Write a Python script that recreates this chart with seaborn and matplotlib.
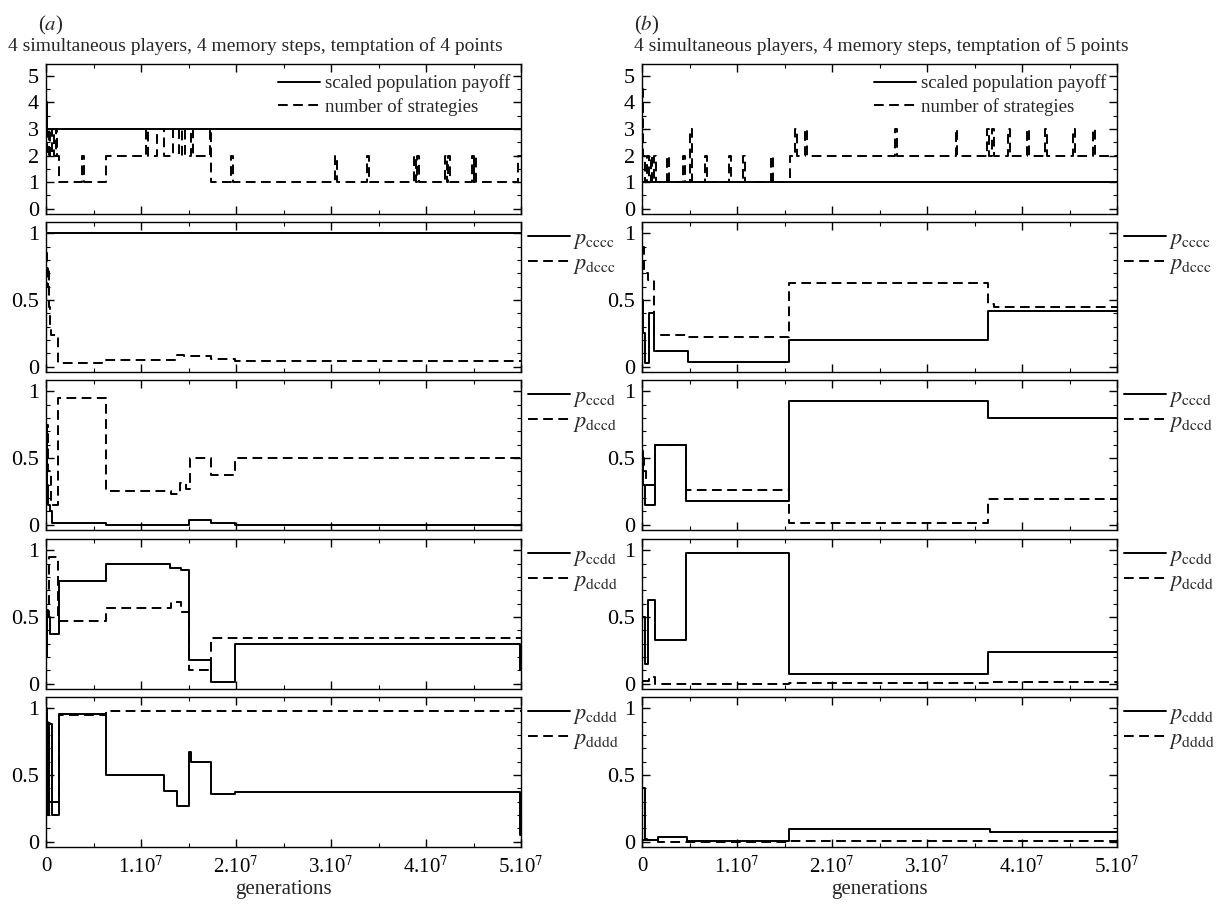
import numpy as np
import matplotlib
matplotlib.use("Agg")
import matplotlib.pyplot as plt
import seaborn as sns
from matplotlib.ticker import MultipleLocator

# ---------------- data (x in units of 1e7 generations) ----------------
x_ticks = [0, 1, 2, 3, 4, 5]
x_tick_labels = ["0", r"1.10$^7$", r"2.10$^7$", r"3.10$^7$", r"4.10$^7$", r"5.10$^7$"]

titles = ["4 simultaneous players, 4 memory steps, temptation of 4 points",
          "4 simultaneous players, 4 memory steps, temptation of 5 points"]
panel_tags = ["a", "b"]

# column (a)
payoff_a_x = [0, 0.015, 5.0]
payoff_a_y = [4.0, 3.0, 3.0]
nstrat_a_x = [0, 0.015, 0.03, 0.045, 0.06, 0.08, 0.10, 0.12, 0.14, 0.38, 0.40, 0.63,
              1.05, 1.07, 1.17, 1.24, 1.34, 1.40, 1.43, 1.46, 1.53, 1.55, 1.73, 1.74,
              1.95, 1.97, 3.04, 3.06, 3.38, 3.40, 3.87, 3.89, 3.91, 3.93,
              4.20, 4.22, 4.23, 4.25, 4.48, 4.50, 4.51, 4.53, 4.97, 5.0]
nstrat_a_y = [3, 2, 3, 2, 3, 2, 3, 2, 1, 2, 1, 2,
              3, 2, 3, 2, 3, 2, 3, 2, 3, 2, 3, 1,
              2, 1, 2, 1, 2, 1, 2, 1, 2, 1,
              2, 1, 2, 1, 2, 1, 2, 1, 2, 2]

pcccc_a_x = [0, 5.0]
pcccc_a_y = [1.0, 1.0]
pdccc_a_x = [0, 0.01, 0.02, 0.03, 0.04, 0.05, 0.13, 0.59, 1.38, 1.45, 1.74, 1.99, 5.0]
pdccc_a_y = [0.85, 0.6, 0.75, 0.45, 0.3, 0.24, 0.03, 0.05, 0.09, 0.08, 0.06, 0.04, 0.04]

pcccd_a_x = [0, 0.01, 0.02, 0.04, 0.06, 0.63, 1.40, 1.51, 1.74, 1.99, 5.0]
pcccd_a_y = [0.75, 0.3, 0.15, 0.1, 0.01, 0.0, -0.005, 0.035, 0.015, -0.005, -0.005]
pdccd_a_x = [0, 0.01, 0.02, 0.05, 0.13, 0.63, 1.32, 1.41, 1.47, 1.52, 1.74, 1.99, 5.0]
pdccd_a_y = [0.6, 0.75, 0.4, 0.15, 0.95, 0.25, 0.23, 0.31, 0.27, 0.5, 0.37, 0.5, 0.5]

pccdd_a_x = [0, 0.01, 0.02, 0.04, 0.14, 0.63, 1.30, 1.42, 1.51, 1.74, 1.99, 4.99, 5.0]
pccdd_a_y = [0.2, 0.55, 0.5, 0.37, 0.77, 0.9, 0.87, 0.85, 0.18, 0.01, 0.3, 0.1, 0.1]
pdcdd_a_x = [0, 0.03, 0.13, 0.63, 1.32, 1.42, 1.51, 1.74, 5.0]
pdcdd_a_y = [0.5, 0.95, 0.47, 0.57, 0.61, 0.54, 0.1, 0.34, 0.34]

pcddd_a_x = [0, 0.01, 0.03, 0.06, 0.14, 0.63, 1.24, 1.38, 1.51, 1.53, 1.74, 1.99, 4.99, 5.0]
pcddd_a_y = [0.95, 0.2, 0.88, 0.2, 0.96, 0.5, 0.38, 0.27, 0.67, 0.6, 0.36, 0.37, 0.05, 0.05]
pdddd_a_x = [0, 0.01, 0.02, 0.03, 0.14, 0.63, 5.0]
pdddd_a_y = [1.0, 0.3, 0.9, 0.3, 0.95, 0.98, 0.98]

# column (b)
payoff_b_x = [0, 5.0]
payoff_b_y = [1.0, 1.0]
nstrat_b_x = [0, 0.01, 0.03, 0.05, 0.07, 0.09, 0.11, 0.13, 0.15, 0.26, 0.28, 0.43, 0.45,
              0.51, 0.53, 0.66, 0.68, 0.92, 0.94, 1.06, 1.08, 1.36, 1.38, 1.56,
              1.61, 1.63, 1.72, 1.74, 2.66, 2.68, 3.30, 3.32, 3.63, 3.65, 3.68, 3.70,
              3.85, 3.87, 4.05, 4.07, 4.24, 4.26, 4.54, 4.56, 4.75, 4.77, 5.0]
nstrat_b_y = [4.5, 2, 1, 2, 1, 2, 1, 2, 1, 2, 1, 2, 1,
              3, 1, 2, 1, 2, 1, 2, 1, 2, 1, 2,
              3, 2, 3, 2, 3, 2, 3, 2, 3, 2, 3, 2,
              3, 2, 3, 2, 3, 2, 3, 2, 3, 2, 2]

pcccc_b_x = [0, 0.01, 0.03, 0.07, 0.13, 0.48, 1.55, 3.64, 5.0]
pcccc_b_y = [0.5, 0.25, 0.03, 0.4, 0.12, 0.035, 0.2, 0.42, 0.42]
pdccc_b_x = [0, 0.02, 0.06, 0.13, 0.48, 1.55, 3.64, 3.70, 5.0]
pdccc_b_y = [0.9, 0.7, 0.65, 0.24, 0.22, 0.63, 0.47, 0.45, 0.45]

pcccd_b_x = [0, 0.01, 0.03, 0.135, 0.46, 1.55, 3.64, 5.0]
pcccd_b_y = [0.55, 0.3, 0.15, 0.6, 0.18, 0.93, 0.8, 0.8]
pdccd_b_x = [0, 0.02, 0.04, 0.135, 0.46, 1.55, 3.64, 5.0]
pdccd_b_y = [0.5, 0.4, 0.3, 0.6, 0.26, 0.01, 0.19, 0.19]

pccdd_b_x = [0, 0.03, 0.065, 0.135, 0.46, 1.55, 3.64, 5.0]
pccdd_b_y = [0.5, 0.15, 0.63, 0.33, 0.98, 0.07, 0.24, 0.24]
pdcdd_b_x = [0, 0.07, 0.135, 1.55, 3.64, 5.0]
pdcdd_b_y = [0.02, 0.05, 0.0, 0.005, 0.012, 0.012]

pcddd_b_x = [0, 0.03, 0.05, 0.17, 0.47, 1.55, 3.66, 5.0]
pcddd_b_y = [0.4, 0.02, 0.015, 0.033, 0.003, 0.093, 0.07, 0.07]
pdddd_b_x = [0, 0.17, 1.55, 5.0]
pdddd_b_y = [0.012, 0.0, 0.003, 0.003]

prob_labels = [("cccc", "dccc"), ("cccd", "dccd"), ("ccdd", "dcdd"), ("cddd", "dddd")]

columns = [
    [(payoff_a_x, payoff_a_y, nstrat_a_x, nstrat_a_y),
     (pcccc_a_x, pcccc_a_y, pdccc_a_x, pdccc_a_y),
     (pcccd_a_x, pcccd_a_y, pdccd_a_x, pdccd_a_y),
     (pccdd_a_x, pccdd_a_y, pdcdd_a_x, pdcdd_a_y),
     (pcddd_a_x, pcddd_a_y, pdddd_a_x, pdddd_a_y)],
    [(payoff_b_x, payoff_b_y, nstrat_b_x, nstrat_b_y),
     (pcccc_b_x, pcccc_b_y, pdccc_b_x, pdccc_b_y),
     (pcccd_b_x, pcccd_b_y, pdccd_b_x, pdccd_b_y),
     (pccdd_b_x, pccdd_b_y, pdcdd_b_x, pdcdd_b_y),
     (pcddd_b_x, pcddd_b_y, pdddd_b_x, pdddd_b_y)],
]

# ---------------- style ----------------
sns.set_theme(style="ticks")
plt.rcParams["font.family"] = ["Liberation Serif", "DejaVu Serif"]
plt.rcParams["mathtext.fontset"] = "stix"
plt.rcParams["lines.dashed_pattern"] = [5, 2.8]
plt.rcParams["axes.linewidth"] = 1.0

W, H = 1225, 907
fig = plt.figure(figsize=(W / 100, H / 100), dpi=100)
fig.patch.set_facecolor("white")

lefts = [46, 642]
tag_x = [38, 634]
title_x = [8, 634]
tops = [64, 222, 380, 539, 697]
AW, AH = 475, 150
LW = 1.4

for c in range(2):
    fig.text(tag_x[c] / W, 1 - 25 / H, "($%s$)" % panel_tags[c],
             fontsize=15, ha="left", va="center")
    fig.text(title_x[c] / W, 1 - 46 / H, titles[c], fontsize=14,
             ha="left", va="center")
    for r in range(5):
        ax = fig.add_axes([lefts[c] / W, 1 - (tops[r] + AH) / H, AW / W, AH / H])
        sx, sy, dx, dy = columns[c][r]
        if r == 0:
            lab_s, lab_d = "scaled population payoff", "number of strategies"
        else:
            lab_s = r"$p_{\mathrm{%s}}$" % prob_labels[r - 1][0]
            lab_d = r"$p_{\mathrm{%s}}$" % prob_labels[r - 1][1]
        sns.lineplot(x=np.array(sx) * 1e7, y=sy, ax=ax, color="black", lw=LW,
                     drawstyle="steps-post", estimator=None, sort=False, label=lab_s)
        sns.lineplot(x=np.array(dx) * 1e7, y=dy, ax=ax, color="black", lw=LW,
                     linestyle="--", drawstyle="steps-post", estimator=None,
                     sort=False, label=lab_d)
        ax.set_xlim(0, 5e7)
        ax.set_xticks([t * 1e7 for t in x_ticks])
        ax.xaxis.set_minor_locator(MultipleLocator(0.5e7))
        if r == 0:
            ax.set_ylim(-0.2, 5.45)
            ax.set_yticks([0, 1, 2, 3, 4, 5])
            ax.set_yticklabels(["0", "1", "2", "3", "4", "5"])
            ax.yaxis.set_minor_locator(MultipleLocator(0.5))
            ax.legend(loc="upper right", frameon=False, fontsize=13.5,
                      handlelength=2.2, handletextpad=0.3, borderaxespad=0.15,
                      labelspacing=0.3)
        else:
            ax.set_ylim(-0.04, 1.085)
            ax.set_yticks([0, 0.5, 1])
            ax.set_yticklabels(["0", "0.5", "1"])
            ax.yaxis.set_minor_locator(MultipleLocator(0.1))
            ax.legend(loc="upper left", bbox_to_anchor=(1.0, 1.0), frameon=False,
                      fontsize=16, handlelength=1.9, handletextpad=0.15,
                      borderaxespad=0.0, borderpad=0.3, labelspacing=0.1)
        ax.tick_params(which="both", direction="in", top=True, right=True,
                       colors="black")
        ax.tick_params(axis="y", labelsize=16, pad=5)
        ax.tick_params(axis="x", labelsize=15, pad=7)
        ax.tick_params(which="major", length=6, width=1.0)
        ax.tick_params(which="minor", length=3, width=0.8)
        ax.set_ylabel("")
        if r == 4:
            ax.set_xticklabels(x_tick_labels)
            ax.set_xlabel("generations", fontsize=15, labelpad=1)
        else:
            ax.set_xticklabels([])
            ax.set_xlabel("")
        for sp in ax.spines.values():
            sp.set_color("black")

fig.savefig("out.png", dpi=100, facecolor="white")
